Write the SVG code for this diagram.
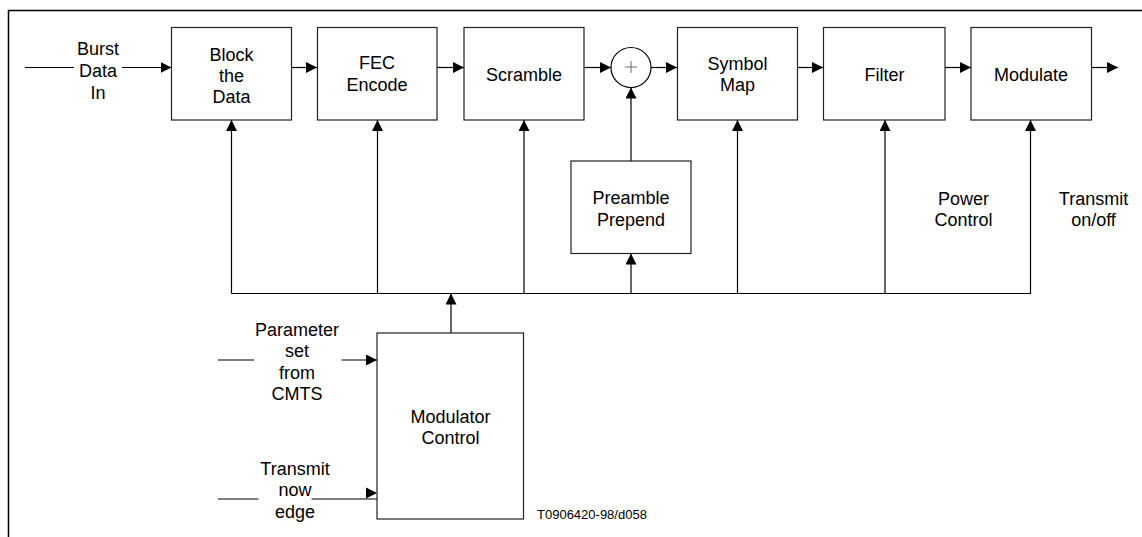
<svg xmlns="http://www.w3.org/2000/svg" width="1142" height="537" viewBox="0 0 1142 537">
<style>
  text { font-family: "Liberation Sans", Arial, sans-serif; font-size: 18px; fill: #000; text-anchor: middle; }
  .box { fill: #fff; stroke: #222; stroke-width: 1.2; }
  .ln { fill: none; stroke: #000; stroke-width: 1.2; }
  .small { font-size: 13px; text-anchor: start; }
</style>
<defs>
  <marker id="ah" markerWidth="11" markerHeight="11" refX="11" refY="5.5" orient="auto" markerUnits="userSpaceOnUse">
    <path d="M0,0 L11,5.5 L0,11 z" fill="#000"/>
  </marker>
</defs>
<rect width="1142" height="537" fill="#fff"/>
<path d="M8.5,537 V10.5 H1142" fill="none" stroke="#000" stroke-width="1.5"/>

<g id="connectors">
  <!-- input -->
  <line class="ln" x1="25" y1="67.5" x2="74" y2="67.5"/>
  <line class="ln" x1="122" y1="67.5" x2="171.5" y2="67.5" marker-end="url(#ah)"/>
  <!-- main chain -->
  <line class="ln" x1="292" y1="67.5" x2="317" y2="67.5" marker-end="url(#ah)"/>
  <line class="ln" x1="437" y1="67.5" x2="464" y2="67.5" marker-end="url(#ah)"/>
  <line class="ln" x1="584" y1="67.5" x2="611" y2="67.5" marker-end="url(#ah)"/>
  <line class="ln" x1="651" y1="67.5" x2="677" y2="67.5" marker-end="url(#ah)"/>
  <line class="ln" x1="797" y1="67.5" x2="823" y2="67.5" marker-end="url(#ah)"/>
  <line class="ln" x1="945" y1="67.5" x2="971" y2="67.5" marker-end="url(#ah)"/>
  <line class="ln" x1="1091" y1="67.5" x2="1118" y2="67.5" marker-end="url(#ah)"/>
  <!-- preamble to adder -->
  <line class="ln" x1="631" y1="161" x2="631" y2="87.5" marker-end="url(#ah)"/>
  <!-- bus -->
  <line class="ln" x1="231.5" y1="293.5" x2="1031" y2="293.5"/>
  <line class="ln" x1="231.5" y1="293.5" x2="231.5" y2="120" marker-end="url(#ah)"/>
  <line class="ln" x1="377.5" y1="293.5" x2="377.5" y2="120" marker-end="url(#ah)"/>
  <line class="ln" x1="524" y1="293.5" x2="524" y2="120" marker-end="url(#ah)"/>
  <line class="ln" x1="631" y1="293.5" x2="631" y2="253.5" marker-end="url(#ah)"/>
  <line class="ln" x1="737.5" y1="293.5" x2="737.5" y2="120" marker-end="url(#ah)"/>
  <line class="ln" x1="885" y1="293.5" x2="885" y2="120" marker-end="url(#ah)"/>
  <line class="ln" x1="1030.5" y1="293.5" x2="1030.5" y2="120" marker-end="url(#ah)"/>
  <!-- modulator control up to bus -->
  <line class="ln" x1="451" y1="333" x2="451" y2="293.5" marker-end="url(#ah)"/>
  <!-- parameter set input -->
  <line class="ln" x1="218" y1="360" x2="254" y2="360" stroke-width="2"/>
  <line class="ln" x1="341.5" y1="360" x2="377" y2="360" stroke-width="2" marker-end="url(#ah)"/>
  <!-- transmit now edge input -->
  <line class="ln" x1="218" y1="499" x2="258.5" y2="499" stroke-width="2"/>
  <line class="ln" x1="311.5" y1="499" x2="377" y2="499" stroke-width="2"/>
  <path d="M366,487.5 L377,493 L366,498.5 z" fill="#000"/>
</g>

<g id="n-block">
  <rect class="box" x="171.5" y="27.5" width="120" height="92.5"/>
  <text x="231.5" y="61">Block</text>
  <text x="231.5" y="82">the</text>
  <text x="231.5" y="103">Data</text>
</g>
<g id="n-fec">
  <rect class="box" x="317.5" y="27.5" width="119.5" height="92.5"/>
  <text x="377" y="69">FEC</text>
  <text x="377" y="91">Encode</text>
</g>
<g id="n-scramble">
  <rect class="box" x="464" y="27.5" width="120" height="92.5"/>
  <text x="524" y="81">Scramble</text>
</g>
<g id="n-adder">
  <circle cx="631" cy="67.5" r="20" fill="#fff" stroke="#000" stroke-width="1.2"/>
  <path d="M625,67 H637 M631,61 V73" stroke="#444" stroke-width="0.8" fill="none"/>
</g>
<g id="n-symbol">
  <rect class="box" x="677.5" y="27.5" width="120" height="92.5"/>
  <text x="737.5" y="70">Symbol</text>
  <text x="737.5" y="91">Map</text>
</g>
<g id="n-filter">
  <rect class="box" x="823.5" y="27.5" width="121.5" height="92.5"/>
  <text x="884.5" y="81">Filter</text>
</g>
<g id="n-modulate">
  <rect class="box" x="971" y="27.5" width="120.5" height="92.5"/>
  <text x="1031" y="81">Modulate</text>
</g>
<g id="n-preamble">
  <rect class="box" x="571" y="161" width="120" height="92.5"/>
  <text x="631" y="204">Preamble</text>
  <text x="631" y="226">Prepend</text>
</g>
<g id="n-modctl">
  <rect class="box" x="377" y="333" width="146.5" height="186"/>
  <text x="450.5" y="423">Modulator</text>
  <text x="450.5" y="444">Control</text>
</g>

<g id="labels">
  <text x="98" y="55">Burst</text>
  <text x="98" y="77">Data</text>
  <text x="98" y="99">In</text>
  <text x="297" y="336">Parameter</text>
  <text x="297" y="357">set</text>
  <text x="297" y="379">from</text>
  <text x="297" y="400">CMTS</text>
  <text x="295" y="475">Transmit</text>
  <text x="295" y="496">now</text>
  <text x="295" y="518">edge</text>
  <text x="963.5" y="205">Power</text>
  <text x="963.5" y="226">Control</text>
  <text x="1093.5" y="205">Transmit</text>
  <text x="1093.5" y="226">on/off</text>
  <text class="small" x="537" y="519">T0906420-98/d058</text>
</g>
</svg>
